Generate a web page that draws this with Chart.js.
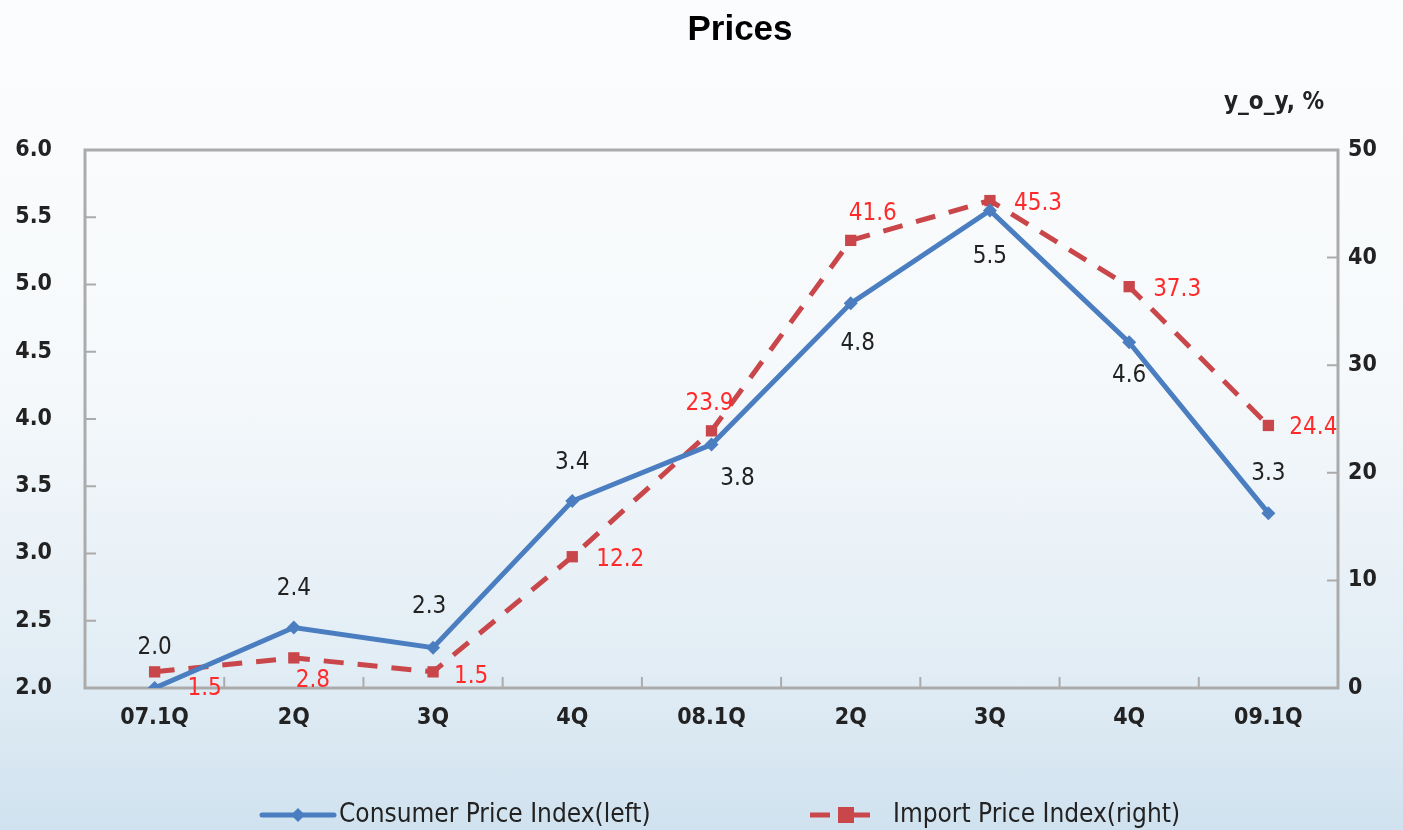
<!DOCTYPE html>
<html>
<head>
<meta charset="utf-8">
<script src="https://cdn.jsdelivr.net/npm/chart.js@4/dist/chart.umd.min.js"></script>
<style>
	html, body { margin: 0; padding: 0; }
	body {
		width: 1403px; height: 830px; overflow: hidden;
		background: linear-gradient(180deg, #fbfcfd 0%, #f6f9fb 45%, #e2edf5 80%, #d0e2ef 100%);
	}
	#wrap { position: relative; width: 1403px; height: 830px; }
</style>
</head>
<body>
<div id="wrap"><canvas id="chart" width="1403" height="830"></canvas></div>
<script>
const quarters = ['07.1Q', '2Q', '3Q', '4Q', '08.1Q', '2Q', '3Q', '4Q', '09.1Q'];
const cpiValues = [2.0, 2.45, 2.3, 3.39, 3.81, 4.86, 5.55, 4.57, 3.3];
const cpiLabels = ['2.0', '2.4', '2.3', '3.4', '3.8', '4.8', '5.5', '4.6', '3.3'];
const importValues = [1.5, 2.8, 1.5, 12.2, 23.9, 41.6, 45.3, 37.3, 24.4];
const importLabels = ['1.5', '2.8', '1.5', '12.2', '23.9', '41.6', '45.3', '37.3', '24.4'];

const cpiName = 'Consumer Price Index(left)';
const importName = 'Import Price Index(right)';

const blue = '#4a7ec0';
const red = '#c9474a';
const labelRed = '#ff2a2a';
const axisGray = '#ababab';
const textDark = '#222222';
const narrow = '"Liberation Sans Narrow", "DejaVu Sans Condensed", Arial, sans-serif';

// where each value label sits relative to its point (dx, dy)
const cpiLabelOffsets = [[0, -40], [0, -39], [-4, -41], [0, -38], [26, 34], [7, 40], [0, 46], [0, 33], [0, -39]];
const importLabelOffsets = [[50, 17], [19, 23], [38, 5], [48, 3], [-2, -27], [22, -27], [48, 3], [48, 3], [45, 2]];

const framePlugin = {
	id: 'frame',
	beforeDatasetsDraw(chart) {
		const { ctx, chartArea: a, scales } = chart;
		ctx.save();
		ctx.strokeStyle = axisGray;
		ctx.lineWidth = 3;
		ctx.strokeRect(a.left, a.top, a.right - a.left, a.bottom - a.top);
		ctx.lineWidth = 2;
		ctx.beginPath();
		scales.y.ticks.forEach(t => {
			const y = scales.y.getPixelForValue(t.value);
			ctx.moveTo(a.left, y); ctx.lineTo(a.left + 11, y);
		});
		scales.y1.ticks.forEach(t => {
			const y = scales.y1.getPixelForValue(t.value);
			ctx.moveTo(a.right, y); ctx.lineTo(a.right - 11, y);
		});
		for (let i = 1; i < quarters.length; i++) {
			const x = (scales.x.getPixelForValue(i - 1) + scales.x.getPixelForValue(i)) / 2;
			ctx.moveTo(x, a.bottom); ctx.lineTo(x, a.bottom - 11);
		}
		ctx.stroke();
		ctx.restore();
	},
	afterDraw(chart) {
		const { ctx } = chart;
		ctx.save();
		ctx.textAlign = 'center';
		ctx.textBaseline = 'middle';
		ctx.fillStyle = '#000';
		ctx.font = 'bold 35px "Liberation Sans", Arial, sans-serif';
		ctx.fillText('Prices', 740, 30);
		ctx.fillStyle = textDark;
		ctx.font = 'bold 24px ' + narrow;
		ctx.fillText('y_o_y, %', 1274, 103);

		const drawLabels = (dsIndex, labels, offsets, color) => {
			const meta = chart.getDatasetMeta(dsIndex);
			ctx.fillStyle = color;
			meta.data.forEach((pt, i) => {
				ctx.fillText(labels[i], pt.x + offsets[i][0], pt.y + offsets[i][1]);
			});
		};
		ctx.font = '24px ' + narrow;
		drawLabels(0, cpiLabels, cpiLabelOffsets, textDark);
		drawLabels(1, importLabels, importLabelOffsets, labelRed);

		// legend
		const ly = 815;
		ctx.lineCap = 'round';
		ctx.strokeStyle = blue;
		ctx.lineWidth = 5;
		ctx.beginPath(); ctx.moveTo(262, ly); ctx.lineTo(334, ly); ctx.stroke();
		ctx.fillStyle = blue;
		ctx.beginPath();
		ctx.moveTo(298, ly - 7); ctx.lineTo(305, ly); ctx.lineTo(298, ly + 7); ctx.lineTo(291, ly);
		ctx.closePath(); ctx.fill();
		ctx.strokeStyle = red;
		ctx.lineCap = 'butt';
		ctx.beginPath(); ctx.moveTo(810, ly); ctx.lineTo(830, ly); ctx.stroke();
		ctx.fillStyle = red;
		ctx.fillRect(838, ly - 8, 16, 16);
		ctx.beginPath(); ctx.moveTo(854, ly); ctx.lineTo(870, ly); ctx.stroke();
		ctx.fillStyle = textDark;
		ctx.textAlign = 'left';
		ctx.font = '26px ' + narrow;
		ctx.fillText(cpiName, 339, ly);
		ctx.fillText(importName, 893, ly);
		ctx.restore();
	}
};

const tickFont = { family: narrow, size: 23, weight: 'bold' };

new Chart(document.getElementById('chart'), {
	type: 'line',
	data: {
		labels: quarters,
		datasets: [
			{
				label: cpiName,
				data: cpiValues,
				yAxisID: 'y',
				borderColor: blue,
				backgroundColor: blue,
				borderWidth: 5,
				pointStyle: 'rectRot',
				pointRadius: 7,
				pointBorderWidth: 0,
				tension: 0,
				order: 1
			},
			{
				label: importName,
				data: importValues,
				yAxisID: 'y1',
				borderColor: red,
				backgroundColor: red,
				borderWidth: 5,
				borderDash: [20, 14],
				pointStyle: 'rect',
				pointRadius: 8,
				pointBorderWidth: 0,
				tension: 0,
				order: 2
			}
		]
	},
	options: {
		responsive: false,
		animation: false,
		layout: { padding: { top: 150, bottom: 100, left: 0, right: 0 } },
		plugins: {
			legend: { display: false },
			title: { display: false },
			tooltip: { enabled: false }
		},
		scales: {
			x: {
				offset: true,
				grid: { display: false, drawTicks: false },
				border: { display: false },
				ticks: { color: textDark, font: tickFont, padding: 16, maxRotation: 0 },
				afterFit: s => { s.height = 42; }
			},
			y: {
				position: 'left',
				min: 2.0,
				max: 6.0,
				grid: { display: false, drawTicks: false },
				border: { display: false },
				ticks: { stepSize: 0.5, color: textDark, font: tickFont, padding: 33, callback: v => v.toFixed(1) },
				afterFit: s => { s.width = 85; }
			},
			y1: {
				position: 'right',
				min: 0,
				max: 50,
				grid: { display: false, drawTicks: false },
				border: { display: false },
				ticks: { stepSize: 10, color: textDark, font: tickFont, padding: 10 },
				afterFit: s => { s.width = 65; }
			}
		}
	},
	plugins: [framePlugin]
});
</script>
</body>
</html>
